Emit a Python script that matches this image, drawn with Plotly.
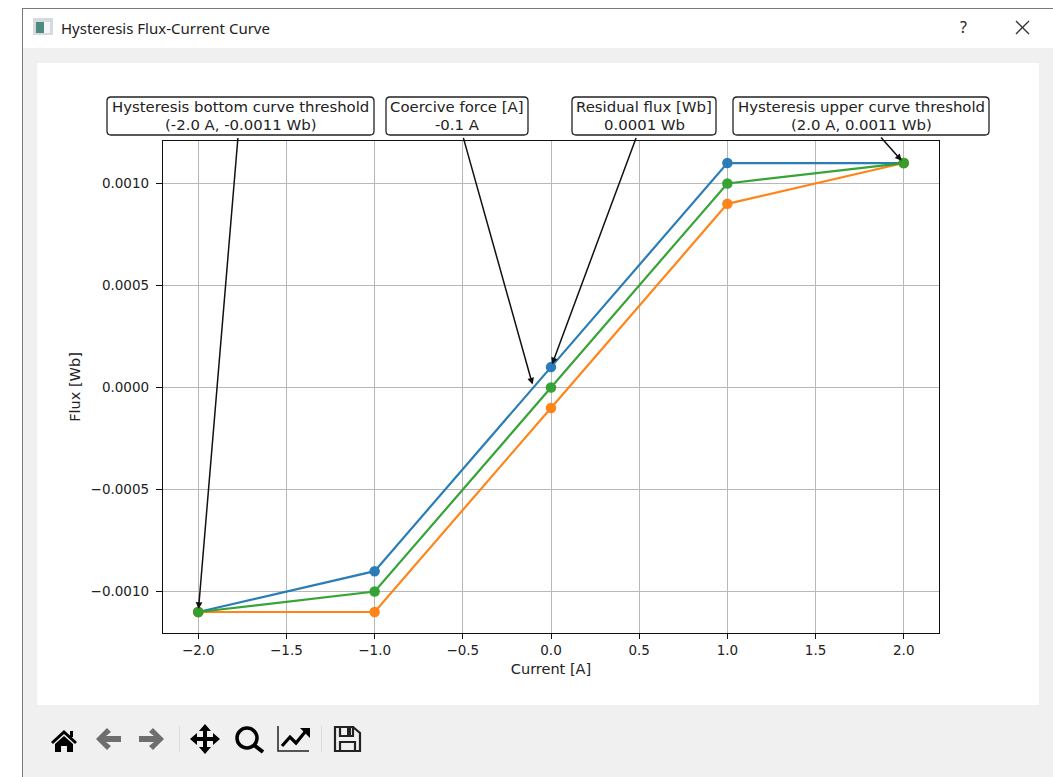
import plotly.graph_objects as go

W, H = 1053, 777

# ---- data ----
current = [-2.0, -1.0, 0.0, 1.0, 2.0]
flux_upper = [-0.0011, -0.0009, 0.0001, 0.0011, 0.0011]
flux_lower = [-0.0011, -0.0011, -0.0001, 0.0009, 0.0011]
flux_mean = [-0.0011, -0.0010, 0.0, 0.0010, 0.0011]
x_ticks = [-2.0, -1.5, -1.0, -0.5, 0.0, 0.5, 1.0, 1.5, 2.0]
y_ticks = [-0.0010, -0.0005, 0.0, 0.0005, 0.0010]
window_title = "Hysteresis Flux-Current Curve"
x_label = "Current [A]"
y_label = "Flux [Wb]"
note_bottom = ["Hysteresis bottom curve threshold", "(-2.0 A, -0.0011 Wb)"]
note_coercive = ["Coercive force [A]", "-0.1 A"]
note_residual = ["Residual flux [Wb]", "0.0001 Wb"]
note_upper = ["Hysteresis upper curve threshold", "(2.0 A, 0.0011 Wb)"]
note_points = [(-2.0, -0.0011), (-0.1, 0.0), (0.0, 0.0001), (2.0, 0.0011)]

FONT = "DejaVu Sans"
BLUE, ORANGE, GREEN = "#1f77b4", "#ff7f0e", "#2ca02c"


def px(x):
    return x / W


def py(y):
    return 1 - y / H


def poly(points, close=True):
    s = "M " + " L ".join(f"{px(x):.5f},{py(y):.5f}" for x, y in points)
    return s + (" Z" if close else "")


def rect(x0, y0, x1, y1, fill, layer="below"):
    return dict(type="rect", xref="paper", yref="paper", x0=px(x0), x1=px(x1), y0=py(y0), y1=py(y1),
                fillcolor=fill, line=dict(width=0), layer=layer)


def path(d, fill=None, color=None, width=0):
    return dict(type="path", xref="paper", yref="paper", path=d, layer="above",
                fillcolor=fill or "rgba(0,0,0,0)",
                line=dict(color=color or "rgba(0,0,0,0)", width=width))


def rounded(x0, y0, x1, y1, r=4):
    X0, X1, Y0, Y1 = px(x0), px(x1), py(y0), py(y1)
    rx, ry = r / W, r / H
    d = (f"M {X0+rx:.5f},{Y0:.5f} L {X1-rx:.5f},{Y0:.5f} Q {X1:.5f},{Y0:.5f} {X1:.5f},{Y0-ry:.5f} "
         f"L {X1:.5f},{Y1+ry:.5f} Q {X1:.5f},{Y1:.5f} {X1-rx:.5f},{Y1:.5f} "
         f"L {X0+rx:.5f},{Y1:.5f} Q {X0:.5f},{Y1:.5f} {X0:.5f},{Y1+ry:.5f} "
         f"L {X0:.5f},{Y0-ry:.5f} Q {X0:.5f},{Y0:.5f} {X0+rx:.5f},{Y0:.5f} Z")
    return path(d, fill="white", color="#222222", width=1.3)


fig = go.Figure()
for ys, col in ((flux_upper, BLUE), (flux_lower, ORANGE), (flux_mean, GREEN)):
    fig.add_trace(go.Scatter(x=current, y=ys, mode="lines+markers", line=dict(color=col, width=2.2),
                             marker=dict(color=col, size=10.5), showlegend=False, cliponaxis=False, opacity=0.95))

shapes = [
    rect(0, 0, W, H, "white"),
    rect(22, 8, W, H, "#f0f0f0"),
    rect(22, 9, W, 48, "white"),
    rect(37, 63, 1039, 705, "white"),
    rect(22, 8, 23, H, "#7a7a7a"),
    rect(22, 8, W, 9, "#7a7a7a"),
    # window icon
    rect(33, 18, 53, 35, "#d5dade"),
    rect(36, 22, 44, 33, "#4f8a80"),
    rect(44, 22, 50, 33, "#f4f6f7"),
    # annotation boxes
    rounded(107, 97, 374, 135),
    rounded(386, 97, 528, 135),
    rounded(572, 97, 716, 135),
    rounded(733, 97, 989, 135),
    # toolbar separators
    rect(179, 726, 180, 752, "#dcdcdc", "above"),
    rect(321, 726, 322, 752, "#dcdcdc", "above"),
    # home
    path(poly([(64, 730), (77, 742), (75, 744), (64, 734), (53, 744), (51, 742)]), fill="black"),
    path(poly([(64, 736), (73, 744), (73, 752), (67, 752), (67, 746), (61, 746), (61, 752), (55, 752), (55, 744)]), fill="black"),
    rect(70, 731, 73, 737, "black", "above"),
    # back / forward
    path(poly([(96, 739), (107, 728), (111, 732), (106, 736), (121, 736), (121, 742), (106, 742), (111, 746), (107, 750)]), fill="#6e6e6e"),
    path(poly([(164, 739), (153, 728), (149, 732), (154, 736), (139, 736), (139, 742), (154, 742), (149, 746), (153, 750)]), fill="#6e6e6e"),
    # move
    path(poly([(205, 724), (211, 731), (207, 731), (207, 737), (213, 737), (213, 733), (220, 739), (213, 745), (213, 741),
               (207, 741), (207, 747), (211, 747), (205, 754), (199, 747), (203, 747), (203, 741), (197, 741), (197, 745),
               (190, 739), (197, 733), (197, 737), (203, 737), (203, 731), (199, 731)]), fill="black"),
    # zoom
    dict(type="circle", xref="paper", yref="paper", x0=px(237), x1=px(257), y0=py(728), y1=py(748), layer="above",
         line=dict(color="black", width=3.5), fillcolor="rgba(0,0,0,0)"),
    path(poly([(254, 745), (263, 752)], close=False), color="black", width=4),
    # chart
    path(poly([(278, 726), (278, 751), (309, 751)], close=False), color="#222222", width=1.5),
    path(poly([(282, 746), (290, 737), (296, 743), (305, 732)], close=False), color="black", width=3.2),
    path(poly([(300, 728), (310, 728), (310, 738)]), fill="black"),
    # save
    path(poly([(335, 727), (353, 727), (360, 733), (360, 751), (335, 751)]), color="#222222", width=2.2),
    path(poly([(340, 727), (353, 727), (353, 736), (340, 736)]), color="#222222", width=2.2),
    rect(347, 728, 351, 735, "#222222", "above"),
    path(poly([(340, 751), (340, 742), (355, 742), (355, 751)], close=False), color="#222222", width=2.2),
]

annotations = []


def label(text, x, y, size=14.9, family=FONT, color="#222222", xanchor="center"):
    annotations.append(dict(text=text, xref="paper", yref="paper", x=px(x), y=py(y), xanchor=xanchor, yanchor="middle",
                            showarrow=False, borderpad=0, font=dict(family=family, size=size, color=color)))


boxes = [(note_bottom, 240.5, (238, 136)), (note_coercive, 457, (463, 136)),
         (note_residual, 644, (637, 136)), (note_upper, 861, (880, 136))]
pixel_x = lambda v: 551.2 + v * 176.5
pixel_y = lambda v: 387.6 - v * 204000
for (lines, cx, tail), (dx, dy) in zip(boxes, note_points):
    label(lines[0], cx, 106.5)
    label(lines[1], cx, 124.5)
    annotations.append(dict(x=dx, y=dy, xref="x", yref="y", text=" ", showarrow=True, arrowhead=2, arrowsize=0.9, arrowwidth=1.5,
                            arrowcolor="#111111", standoff=3, axref="pixel", ayref="pixel",
                            ax=tail[0] - pixel_x(dx), ay=tail[1] - pixel_y(dy), font=dict(size=1)))

label(window_title, 60, 28, size=15, family="Noto Sans", color="#222222", xanchor="left")
label("?", 963, 27, size=16, family="Noto Sans", color="#222222")
shapes.append(path(poly([(1016, 21), (1029, 34)], close=False), color="#333333", width=1.3))
shapes.append(path(poly([(1029, 21), (1016, 34)], close=False), color="#333333", width=1.3))

tick_font = dict(family=FONT, size=13.5, color="#222222")
title_font = dict(family=FONT, size=14.5, color="#222222")
axis_common = dict(ticks="outside", tickwidth=1.2, tickcolor="#111111", showgrid=True, gridcolor="#b8b8b8",
                   gridwidth=1.3, zeroline=False, showline=True, linecolor="#111111", linewidth=1.3, mirror=True,
                   tickfont=tick_font)
fig.update_layout(
    width=W, height=H, autosize=False, margin=dict(l=0, r=0, t=0, b=0),
    paper_bgcolor="white", plot_bgcolor="white", showlegend=False,
    font=tick_font, shapes=shapes, annotations=annotations,
    xaxis=dict(domain=[px(163), px(939)], range=[-2.2, 2.2], tickvals=x_ticks, tickformat=".1f", ticklen=5,
               title=dict(text=x_label, font=title_font, standoff=6), **axis_common),
    yaxis=dict(domain=[py(633), py(141)], range=[-0.001203, 0.001208], tickvals=y_ticks, tickformat=".4f", ticklen=6,
               ticklabelstandoff=4, title=dict(text=y_label, font=title_font, standoff=6), **axis_common),
)

fig.write_html("out.html", post_script="document.body.style.margin='0';document.body.style.overflow='hidden';",
               config=dict(displayModeBar=False))
